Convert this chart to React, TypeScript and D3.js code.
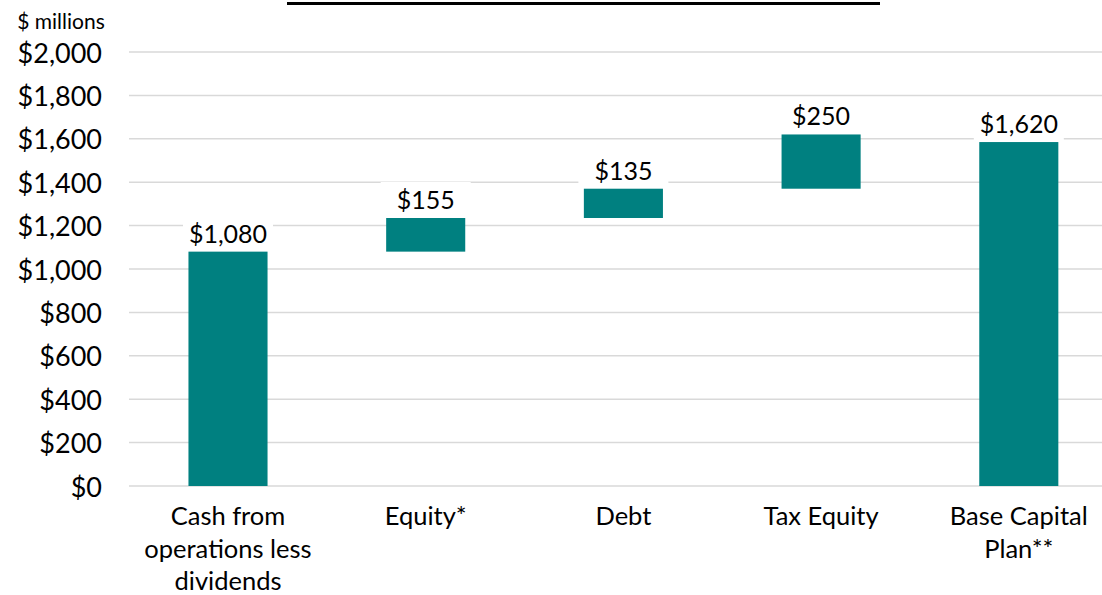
import React from "react";
import * as d3 from "d3";

const categories = [
  "Cash from\noperations less\ndividends",
  "Equity*",
  "Debt",
  "Tax Equity",
  "Base Capital\nPlan**",
];
// first and last are totals, middle are increments
const barValues = [1080, 155, 135, 250, 1585];
const isTotal = [true, false, false, false, true];
const dataLabels = ["$1,080", "$155", "$135", "$250", "$1,620"];
const yTicks = [0, 200, 400, 600, 800, 1000, 1200, 1400, 1600, 1800, 2000];
const yUnitLabel = "$ millions";

const W = 1102;
const H = 595;
const FONT = "Lato, 'Open Sans', sans-serif";
const TEAL = "#008080";

export default function App() {
  const x = d3
    .scaleBand<string>()
    .domain(categories)
    .range([129.15, 1117.65])
    .paddingInner(0.6)
    .paddingOuter(0.3);
  const y = d3.scaleLinear().domain([0, 2000]).range([486, 52]);
  const fmt = (v: number) => "$" + d3.format(",")(v);

  let running = 0;
  const bars = categories.map((c, i) => {
    let lo: number, hi: number;
    if (isTotal[i]) {
      lo = 0;
      hi = barValues[i];
      running = barValues[i];
    } else {
      lo = running;
      hi = running + barValues[i];
      running = hi;
    }
    return { c, lo, hi, label: dataLabels[i] };
  });

  return (
    <svg
      width={W}
      height={H}
      style={{ position: "absolute", left: 0, top: 0, background: "#fff" }}
      fontFamily={FONT}
    >
      {/* title underline (title itself is cropped above the frame) */}
      <line x1={287} x2={880} y1={3.5} y2={3.5} stroke="#000" strokeWidth={3} />

      <text x={61} y={20} fontSize={21} textAnchor="middle" dominantBaseline="central" fill="#000">
        {yUnitLabel}
      </text>

      {yTicks.map((t) => (
        <g key={t}>
          <line x1={129} x2={W} y1={y(t)} y2={y(t)} stroke="#d9d9d9" strokeWidth={1.5} />
          <text
            x={102}
            y={y(t)}
            fontSize={27}
            textAnchor="end"
            dominantBaseline="central"
            fill="#000"
          >
            {fmt(t)}
          </text>
        </g>
      ))}

      {bars.map((b) => (
        <rect
          key={b.c}
          x={x(b.c)}
          width={x.bandwidth()}
          y={y(b.hi)}
          height={y(b.lo) - y(b.hi)}
          fill={TEAL}
        />
      ))}

      {bars.map((b) => {
        const cx = (x(b.c) as number) + x.bandwidth() / 2;
        const cy = y(b.hi) - 19;
        return (
          <g key={"l" + b.c}>
            <rect x={cx - 45} y={cy - 17} width={90} height={34} fill="#fff" />
            <text x={cx} y={cy} fontSize={25} textAnchor="middle" dominantBaseline="central" fill="#000">
              {b.label}
            </text>
          </g>
        );
      })}

      {categories.map((c) => {
        const cx = (x(c) as number) + x.bandwidth() / 2;
        return (
          <text key={"c" + c} x={cx} fontSize={25.5} textAnchor="middle" fill="#000">
            {c.split("\n").map((line, j) => (
              <tspan key={j} x={cx} y={515 + j * 32.5} dominantBaseline="central">
                {line}
              </tspan>
            ))}
          </text>
        );
      })}
    </svg>
  );
}
